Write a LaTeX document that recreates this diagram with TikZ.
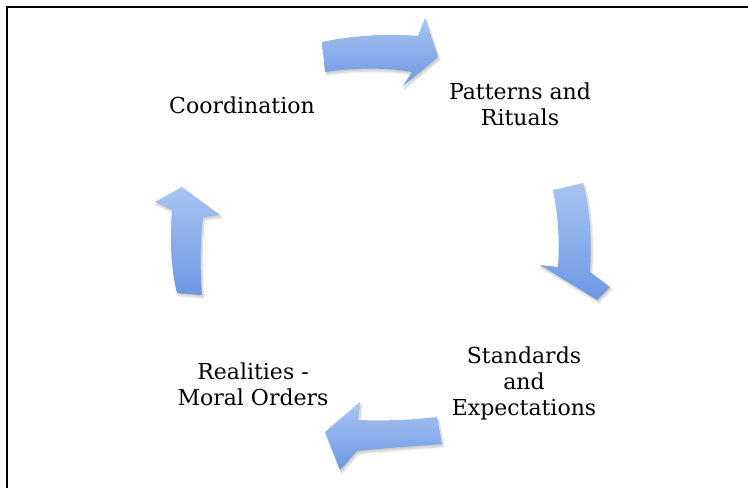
\documentclass[tikz,border=0pt]{standalone}
\usepackage{fontspec}
\setmainfont{DejaVu Serif}
\usetikzlibrary{shadows.blur}
\definecolor{arrtop}{RGB}{168,197,242}
\definecolor{arrbot}{RGB}{108,151,226}
\tikzset{
  blockarrow/.style={top color=arrtop, bottom color=arrbot, draw=none,
    blur shadow={shadow xshift=1.5bp, shadow yshift=-2.5bp, shadow opacity=22, shadow blur steps=6}},
  label/.style={align=center, font=\fontsize{22bp}{26bp}\selectfont, text=black, inner sep=0pt},
  frame/.style={line width=2.5bp, black}
}
\begin{document}
\begin{tikzpicture}[x=1bp, y=-1bp]
\useasboundingbox (0,0) rectangle (748,488);
% frame (top and left edges visible)
\draw[frame] (7,488) -- (7,7) -- (748,7);

% text nodes
\node[label] (coord) at (242,105) {Coordination};
\node[label] (patt) at (520,104) {Patterns and\\Rituals};
\node[label] (stand) at (524,383) {Standards\\and\\Expectations};
\node[label] (real) at (253,384) {Realities -\\Moral Orders};

% top arrow (Coordination -> Patterns)
\path[blockarrow] (322,42) .. controls (350,36) and (385,33) .. (418,36)
  -- (425,18) -- (438,57) -- (403,86) -- (412,72)
  .. controls (385,67) and (350,68) .. (325,72) -- cycle;

% right arrow (Patterns -> Standards)
\path[blockarrow] (553,190) -- (583,183) .. controls (590,210) and (592,240) .. (590,272)
  -- (610,287) -- (597,300) -- (540,265) -- (558,267)
  .. controls (560,240) and (558,215) .. (553,190) -- cycle;

% bottom arrow (Standards -> Realities)
\path[blockarrow] (437,417) .. controls (410,420) and (385,421) .. (358,420)
  -- (360,402) -- (325,432) -- (340,470) -- (357,451)
  .. controls (385,448) and (415,446) .. (442,444) -- cycle;

% left arrow (Realities -> Coordination)
\path[blockarrow] (177,293) .. controls (170,265) and (170,235) .. (172,210)
  -- (155,202) -- (182,187) -- (220,215) -- (203,217)
  .. controls (200,240) and (200,270) .. (202,295) -- cycle;
\end{tikzpicture}
\end{document}
